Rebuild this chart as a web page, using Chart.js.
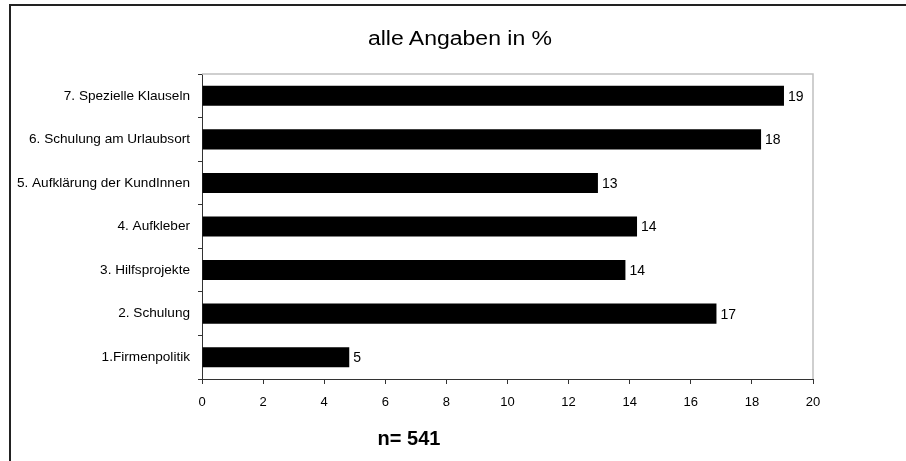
<!DOCTYPE html>
<html>
<head>
<meta charset="utf-8">
<script src="https://cdn.jsdelivr.net/npm/chart.js@4.4.1/dist/chart.umd.min.js"></script>
<style>
    body { margin: 0; background: #fff; }
    #wrap { position: relative; width: 906px; height: 461px; overflow: hidden; }
    #frame { position: absolute; left: 9px; top: 4px; right: -4px; bottom: -4px; border-top: 2px solid #222; border-left: 2px solid #222; }
    #title { position: absolute; left: 310px; width: 300px; top: 27px; line-height: 20px; text-align: center;
        font: 20px "Liberation Sans", Arial, sans-serif; color: #000; transform: scaleX(1.15); }
    #note { position: absolute; left: 309px; width: 200px; top: 427px; line-height: 20px; text-align: center;
        font: bold 20px "Liberation Sans", Arial, sans-serif; color: #000; }
</style>
</head>
<body>
<div id="wrap">
    <div id="frame"></div>
    <canvas id="chartBars" width="906" height="461"></canvas>
    <div id="title">alle Angaben in %</div>
    <div id="note">n= 541</div>
</div>
<script>
// categories top to bottom
const categories = [
    "7. Spezielle Klauseln",
    "6. Schulung am Urlaubsort",
    "5. Aufklärung der KundInnen",
    "4. Aufkleber",
    "3. Hilfsprojekte",
    "2. Schulung",
    "1.Firmenpolitik"
];
const percentValues = [19.05, 18.3, 12.96, 14.24, 13.86, 16.84, 4.82];
const xTicks = [0, 2, 4, 6, 8, 10, 12, 14, 16, 18, 20];

const fontName = "'Liberation Sans', Arial, sans-serif";

// gray border on top and right of plot area
const plotBorder = {
    id: "plotBorder",
    beforeDatasetsDraw(chart) {
        const { ctx, chartArea: a } = chart;
        ctx.save();
        ctx.strokeStyle = "#c0c0c0";
        ctx.lineWidth = 1.5;
        ctx.beginPath();
        ctx.moveTo(a.left, a.top);
        ctx.lineTo(a.right, a.top);
        ctx.lineTo(a.right, a.bottom);
        ctx.stroke();
        ctx.restore();
    }
};

// rounded value next to each bar
const barValues = {
    id: "barValues",
    afterDatasetsDraw(chart) {
        const { ctx } = chart;
        const meta = chart.getDatasetMeta(0);
        ctx.save();
        ctx.font = "14px " + fontName;
        ctx.fillStyle = "#000";
        ctx.textAlign = "left";
        ctx.textBaseline = "middle";
        meta.data.forEach((bar, i) => {
            ctx.fillText(String(Math.round(percentValues[i])), bar.x + 4, bar.y + 1);
        });
        ctx.restore();
    }
};

const chart = new Chart(document.getElementById("chartBars").getContext("2d"), {
    type: "bar",
    data: {
        labels: categories,
        datasets: [{
            data: percentValues,
            backgroundColor: "#000",
            borderWidth: 0,
            barPercentage: 0.46,
            categoryPercentage: 1
        }]
    },
    options: {
        indexAxis: "y",
        responsive: false,
        animation: false,
        events: [],
        layout: { padding: { left: 0, right: 93, top: 74, bottom: 52 } },
        plugins: {
            legend: { display: false },
            tooltip: { enabled: false }
        },
        scales: {
            x: {
                min: 0,
                max: 20,
                afterBuildTicks: (scale) => { scale.ticks = xTicks.map(v => ({ value: v })); },
                afterFit: (scale) => { scale.height = 30; },
                grid: { drawOnChartArea: false, drawTicks: true, tickLength: 5, color: "#333", tickWidth: 1 },
                border: { display: true, color: "#333", width: 1 },
                ticks: { color: "#000", padding: 11, font: { family: fontName, size: 13 } }
            },
            y: {
                afterFit: (scale) => { scale.width = 202; },
                grid: { offset: true, drawOnChartArea: false, drawTicks: true, tickLength: 4, color: "#333" },
                border: { display: true, color: "#333", width: 1 },
                ticks: { color: "#000", padding: 8, font: { family: fontName, size: 13.6 } }
            }
        }
    },
    plugins: [plotBorder, barValues]
});
</script>
</body>
</html>
